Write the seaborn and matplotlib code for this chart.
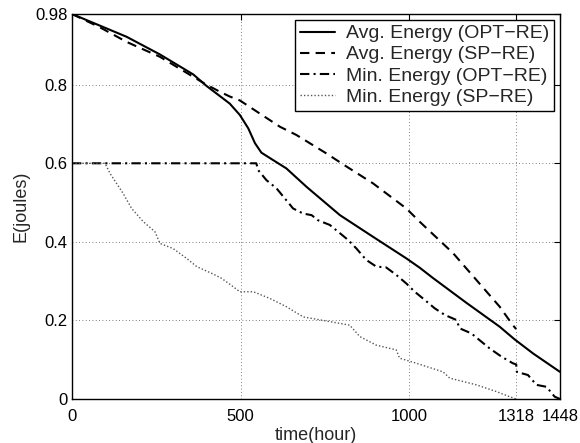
import numpy as np
import pandas as pd
import matplotlib
matplotlib.use("Agg")
import matplotlib.pyplot as plt
import seaborn as sns

# ---- data ----
avg_opt_t = [0, 162, 261, 360, 399, 468, 498, 523, 543, 562, 597, 636, 696, 795,
             893, 992, 1032, 1071, 1170, 1269, 1313, 1368, 1448]
avg_opt_e = [0.98, 0.922, 0.877, 0.826, 0.797, 0.752, 0.723, 0.689, 0.651, 0.627,
             0.608, 0.587, 0.540, 0.468, 0.413, 0.358, 0.334, 0.308, 0.245, 0.184,
             0.152, 0.116, 0.069]

avg_sp_t = [0, 83, 162, 261, 360, 399, 439, 468, 498, 617, 666, 755, 814, 893,
            992, 1032, 1131, 1209, 1269, 1308, 1318]
avg_sp_e = [0.98, 0.946, 0.909, 0.871, 0.820, 0.800, 0.782, 0.770, 0.760, 0.693,
            0.672, 0.625, 0.592, 0.549, 0.485, 0.451, 0.371, 0.294, 0.235, 0.188,
            0.178]

min_opt_t = [0, 547, 552, 577, 607, 631, 656, 686, 711, 730, 765, 795, 819, 844,
             873, 903, 932, 962, 992, 1017, 1047, 1076, 1106, 1141, 1150, 1185,
             1209, 1239, 1274, 1308, 1318, 1320, 1353, 1378, 1408, 1432, 1448]
min_opt_e = [0.6, 0.6, 0.583, 0.557, 0.536, 0.511, 0.485, 0.472, 0.468, 0.455,
             0.443, 0.422, 0.405, 0.383, 0.354, 0.337, 0.335, 0.316, 0.294, 0.273,
             0.252, 0.231, 0.214, 0.201, 0.180, 0.167, 0.150, 0.129, 0.108, 0.091,
             0.088, 0.069, 0.061, 0.036, 0.031, 0.006, 0.0]

min_sp_t = [0, 98, 113, 132, 152, 177, 212, 246, 261, 300, 340, 370, 419, 444,
            478, 498, 538, 587, 636, 686, 765, 824, 854, 903, 962, 972, 1022, 1101,
            1121, 1200, 1259, 1298, 1318]
min_sp_e = [0.6, 0.6, 0.574, 0.549, 0.523, 0.485, 0.451, 0.426, 0.396, 0.383,
            0.358, 0.337, 0.318, 0.307, 0.286, 0.273, 0.273, 0.256, 0.235, 0.209,
            0.197, 0.188, 0.159, 0.137, 0.125, 0.104, 0.091, 0.069, 0.053, 0.036,
            0.019, 0.006, 0.0]

x_ticks = [0, 500, 1000, 1318, 1448]
y_ticks = [0, 0.2, 0.4, 0.6, 0.8, 0.98]
y_tick_labels = ["0", "0.2", "0.4", "0.6", "0.8", "0.98"]

series = [
    ("Avg. Energy (OPT\u2212RE)", avg_opt_t, avg_opt_e),
    ("Avg. Energy (SP\u2212RE)", avg_sp_t, avg_sp_e),
    ("Min. Energy (OPT\u2212RE)", min_opt_t, min_opt_e),
    ("Min. Energy (SP\u2212RE)", min_sp_t, min_sp_e),
]

# ---- style ----
sns.set_style("white")
plt.rcParams['font.family'] = ['Liberation Sans', 'DejaVu Sans']

styles = [
    dict(color="black", linestyle="-", linewidth=1.5),
    dict(color="black", linestyle=(0, (4.5, 3)), linewidth=1.5),
    dict(color="black", linestyle=(0, (4.5, 2, 1, 2)), linewidth=1.5),
    dict(color="#555555", linestyle=(0, (1, 1.5)), linewidth=1.0),
]

fig = plt.figure(figsize=(5.8, 4.43), dpi=100)
ax = fig.add_axes([72 / 580, 1 - 399 / 443, 488 / 580, 385 / 443])

for (name, t, e), st in zip(series, styles):
    df = pd.DataFrame({"time": t, "E": e})
    sns.lineplot(data=df, x="time", y="E", ax=ax, label=name, sort=False,
                 estimator=None, **st)

ax.set_xlim(0, 1448)
ax.set_ylim(0, 0.98)
ax.set_xticks(x_ticks)
ax.set_xticklabels([str(v) for v in x_ticks])
ax.set_yticks(y_ticks)
ax.set_yticklabels(y_tick_labels)
ax.tick_params(direction="in", top=True, right=True, length=4, width=0.8,
               labelsize=12, colors="black")
ax.tick_params(axis="x", pad=7)
ax.tick_params(axis="y", pad=3)
ax.grid(True, linestyle=(0, (1, 3)), color="#555555", linewidth=0.6)
for sp in ax.spines.values():
    sp.set_color("black")
    sp.set_linewidth(1.0)

ax.set_xlabel("time(hour)", fontsize=13, labelpad=2)
ax.set_ylabel("E(joules)", fontsize=13, labelpad=4)

leg = ax.legend(loc="upper right", fontsize=14, frameon=True, fancybox=False,
                framealpha=1, edgecolor="black", handlelength=1.8,
                handletextpad=0.55, labelspacing=0.18, borderpad=0.25,
                borderaxespad=0.3)
leg.get_frame().set_linewidth(1.0)

fig.savefig("out.png", dpi=100)
